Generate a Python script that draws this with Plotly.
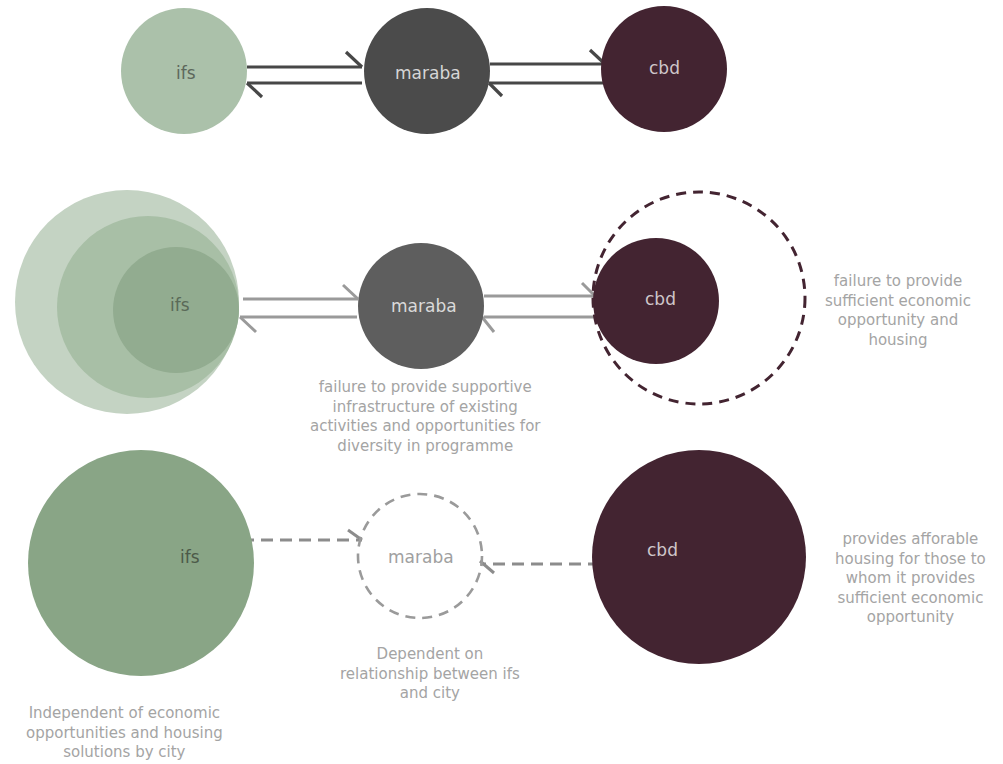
import plotly.graph_objects as go

W, H = 1003, 764

# ---- data -------------------------------------------------------------
node_names = ["ifs", "maraba", "cbd"]

# row 1 : balanced exchange
row1_cx = [184, 427, 664]
row1_cy = [71, 71, 69]
row1_r = [63, 63, 63]
row1_fill = ["#abc1aa", "#4b4b4b", "#432431"]
row1_label_xy = [(186, 73), (428, 73), (664, 68)]
row1_label_color = ["#5d685c", "#d6d6d6", "#cfc6ca"]

# row 2 : ifs grows, cbd fails to grow
row2_ifs_cx = [127, 148, 176]
row2_ifs_cy = [302, 307, 310]
row2_ifs_r = [112, 91, 63]
row2_ifs_fill = ["#c4d3c3", "#a8bfa6", "#92ac90"]
row2_cx = [176, 421, 656]
row2_cy = [310, 306, 301]
row2_mid_fill = "#5e5e5e"
row2_cbd_potential = (699, 298, 106)
row2_label_xy = [(180, 305), (424, 306), (660, 299)]
row2_label_color = ["#5a6a58", "#dadada", "#cfc6ca"]

# row 3 : independent
row3_cx = [141, 420, 699]
row3_cy = [563, 556, 557]
row3_r = [113, 62, 107]
row3_fill = ["#89a586", None, "#432431"]
row3_label_xy = [(190, 557), (421, 557), (662, 550)]
row3_label_color = ["#4c5a49", "#a0a0a0", "#cfc6ca"]

notes = [
    "failure to provide supportive<br>infrastructure of existing<br>activities and opportunities for<br>diversity in programme",
    "failure to provide<br>sufficient economic<br>opportunity and<br>housing",
    "provides afforable<br>housing for those to<br>whom it provides<br>sufficient economic<br>opportunity",
    "Dependent on<br>relationship between ifs<br>and city",
    "Independent of economic<br>opportunities and housing<br>solutions by city",
]
notes_xy = [(425, 416), (898, 310), (910, 578), (430, 673), (124, 732)]

# arrows: (line start, line end, barb start, barb end)
row1_arrows = [
    ((247, 67), (362, 67), (346, 52), (362, 67)),
    ((362, 83), (247, 83), (247, 83), (262, 97)),
    ((490, 64), (605, 64), (590, 50), (605, 64)),
    ((603, 83), (489, 83), (489, 83), (502, 96)),
]
row2_arrows = [
    ((243, 299), (358, 299), (343, 285), (358, 299)),
    ((357, 317), (240, 317), (240, 317), (256, 332)),
    ((484, 296), (595, 296), (582, 283), (595, 296)),
    ((597, 317), (484, 317), (482, 317), (494, 332)),
]
row3_arrows = [
    ((242, 540), (362, 540), (348, 530), (362, 540)),
    ((600, 564), (481, 564), (480, 561), (494, 573)),
]

# ---- figure -----------------------------------------------------------
shapes = []
annotations = []


def circle(cx, cy, r, fill=None, line_color=None, width=0, dash=None):
    d = dict(type="circle", xref="x", yref="y",
             x0=cx - r, x1=cx + r, y0=cy - r, y1=cy + r, layer="below")
    d["fillcolor"] = fill if fill else "rgba(0,0,0,0)"
    if line_color and width:
        d["line"] = dict(color=line_color, width=width, dash=dash or "solid")
    else:
        d["line"] = dict(width=0)
    shapes.append(d)


def arrow(a, color, width, dash="solid"):
    (x1, y1), (x2, y2), (bx, by), (tx, ty) = a
    shapes.append(dict(type="line", xref="x", yref="y", x0=x1, y0=y1, x1=x2, y1=y2,
                       line=dict(color=color, width=width, dash=dash), layer="below"))
    shapes.append(dict(type="line", xref="x", yref="y", x0=bx, y0=by, x1=tx, y1=ty,
                       line=dict(color=color, width=width), layer="below"))


def label(text, xy, color, size=17):
    annotations.append(dict(text=text, x=xy[0], y=xy[1], xref="x", yref="y",
                            showarrow=False, xanchor="center", yanchor="middle",
                            font=dict(family="DejaVu Sans", size=size, color=color)))


# row 1
for a in row1_arrows:
    arrow(a, "#474747", 3.2)
for i, n in enumerate(node_names):
    circle(row1_cx[i], row1_cy[i], row1_r[i], fill=row1_fill[i])
    label(n, row1_label_xy[i], row1_label_color[i])

# row 2
for a in row2_arrows:
    arrow(a, "#9a9a9a", 3)
for i in range(3):
    circle(row2_ifs_cx[i], row2_ifs_cy[i], row2_ifs_r[i], fill=row2_ifs_fill[i])
circle(row2_cx[1], row2_cy[1], 63, fill=row2_mid_fill)
circle(row2_cx[2], row2_cy[2], 63, fill="#432431")
pcx, pcy, pr = row2_cbd_potential
circle(pcx, pcy, pr, line_color="#432431", width=3, dash="10px,7px")
for i, n in enumerate(node_names):
    label(n, row2_label_xy[i], row2_label_color[i])

# row 3
for a in row3_arrows:
    arrow(a, "#8c8c8c", 3, dash="12px,7px")
for i, n in enumerate(node_names):
    if row3_fill[i]:
        circle(row3_cx[i], row3_cy[i], row3_r[i], fill=row3_fill[i])
    else:
        circle(row3_cx[i], row3_cy[i], row3_r[i], line_color="#9a9a9a", width=2.6,
               dash="10px,7px")
    label(n, row3_label_xy[i], row3_label_color[i])

# notes
for t, xy in zip(notes, notes_xy):
    label(t, xy, "#a4a4a4", size=15)

fig = go.Figure()
fig.add_trace(go.Scatter(x=[0, W], y=[0, H], mode="markers",
                         marker=dict(opacity=0), hoverinfo="skip", showlegend=False))
fig.update_layout(
    width=W, height=H,
    margin=dict(l=0, r=0, t=0, b=0),
    paper_bgcolor="white", plot_bgcolor="white",
    xaxis=dict(range=[0, W], visible=False, fixedrange=True),
    yaxis=dict(range=[H, 0], visible=False, fixedrange=True),
    shapes=shapes, annotations=annotations, showlegend=False,
)
fig.write_html(
    "out.html",
    config={"displayModeBar": False},
    post_script="document.body.style.margin='0';document.body.style.overflow='hidden';",
)
